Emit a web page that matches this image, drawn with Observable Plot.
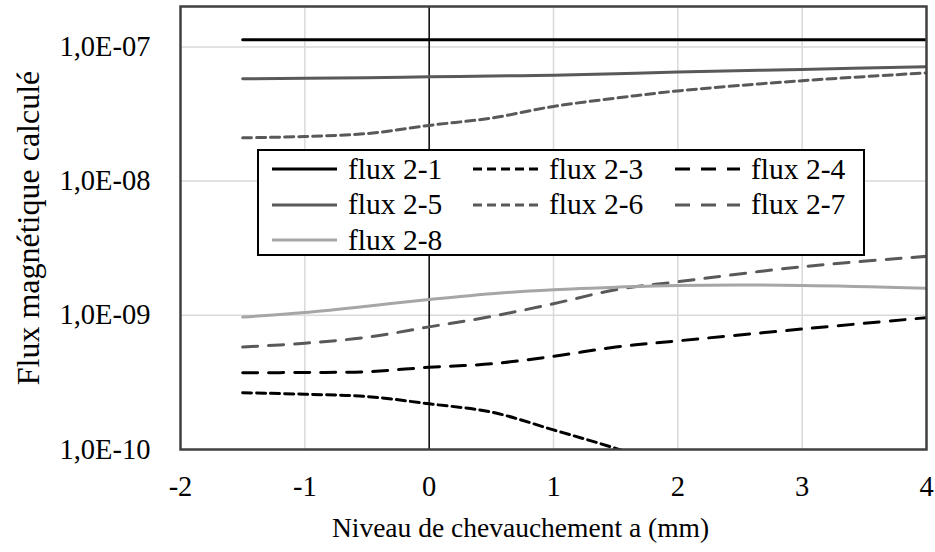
<!DOCTYPE html>
<html>
<head>
<meta charset="utf-8">
<script src="https://cdn.jsdelivr.net/npm/d3@7"></script>
<script src="https://cdn.jsdelivr.net/npm/@observablehq/plot@0.6"></script>
<style>
  html, body { margin: 0; padding: 0; background: #fff; }
  #wrap { position: relative; width: 935px; height: 552px; font-family: "Times New Roman", "Liberation Serif", serif; }
  #legend { position: absolute; left: 257px; top: 149px; width: 604px; height: 103px; background: #fff; border: 2px solid #000; }
  .item { position: absolute; height: 34px; display: flex; align-items: center; font-family: "Times New Roman", "Liberation Serif", serif; font-size: 29.5px; color: #000; white-space: nowrap; }
  .item svg { margin-right: 11px; }
</style>
</head>
<body>
<div id="wrap"></div>
<script>
// ---- data ----
const xValues = [-1.5, -1, -0.5, 0, 0.5, 1, 1.5, 2, 3, 4];
const flux21 = [1.13e-7, 1.13e-7, 1.13e-7, 1.13e-7, 1.13e-7, 1.13e-7, 1.13e-7, 1.13e-7, 1.13e-7, 1.13e-7];
const flux23 = [2.65e-10, 2.58e-10, 2.48e-10, 2.19e-10, 1.9e-10, 1.4e-10, 1.02e-10, 7.2e-11, null, null];
const flux24 = [3.73e-10, 3.75e-10, 3.8e-10, 4.1e-10, 4.35e-10, 4.95e-10, 5.8e-10, 6.45e-10, 7.9e-10, 9.6e-10];
const flux25 = [5.78e-8, 5.83e-8, 5.9e-8, 5.98e-8, 6.07e-8, 6.15e-8, 6.3e-8, 6.5e-8, 6.8e-8, 7.1e-8];
const flux26 = [2.1e-8, 2.15e-8, 2.26e-8, 2.6e-8, 2.95e-8, 3.6e-8, 4.15e-8, 4.7e-8, 5.6e-8, 6.4e-8];
const flux27 = [5.8e-10, 6.2e-10, 6.86e-10, 8.2e-10, 9.8e-10, 1.22e-9, 1.55e-9, 1.78e-9, 2.3e-9, 2.75e-9];
const flux28 = [9.7e-10, 1.05e-9, 1.17e-9, 1.31e-9, 1.45e-9, 1.55e-9, 1.62e-9, 1.67e-9, 1.67e-9, 1.59e-9];

const seriesNames = ["flux 2-1", "flux 2-3", "flux 2-4", "flux 2-5", "flux 2-6", "flux 2-7", "flux 2-8"];
const seriesValues = [flux21, flux23, flux24, flux25, flux26, flux27, flux28];

const xTicks = [-2, -1, 0, 1, 2, 3, 4];
const yTicks = [1e-10, 1e-9, 1e-8, 1e-7];
const yTickLabels = ["1,0E-10", "1,0E-09", "1,0E-08", "1,0E-07"];

const xTitle = "Niveau de chevauchement a (mm)";
const yTitle = "Flux magnétique calculé";

// ---- styles ----
const serif = "'Times New Roman', 'Liberation Serif', serif";
const styles = {
  "flux 2-1": {stroke: "#000000", dash: null},
  "flux 2-3": {stroke: "#000000", dash: "9,5"},
  "flux 2-4": {stroke: "#000000", dash: "15,11"},
  "flux 2-5": {stroke: "#595959", dash: null},
  "flux 2-6": {stroke: "#595959", dash: "9,5"},
  "flux 2-7": {stroke: "#595959", dash: "15,11"},
  "flux 2-8": {stroke: "#a6a6a6", dash: null}
};

const rows = [];
seriesNames.forEach((name, i) => {
  seriesValues[i].forEach((v, j) => {
    if (v != null) rows.push({series: name, x: xValues[j], y: v});
  });
});

const lineMarks = seriesNames.map(name => Plot.line(rows.filter(d => d.series === name), {
  x: "x", y: "y", stroke: styles[name].stroke, strokeWidth: 3,
  strokeDasharray: styles[name].dash, curve: "catmull-rom", clip: true
}));

const chart = Plot.plot({
  width: 935,
  height: 552,
  marginLeft: 180,
  marginRight: 9,
  marginTop: 6,
  marginBottom: 103,
  style: {fontFamily: serif, fontSize: "28.5px", color: "#000", background: "#fff"},
  x: {domain: [-2, 4]},
  y: {type: "log", domain: [1e-10, 2e-7]},
  marks: [
    Plot.gridX(xTicks.filter(t => t !== 0 && t !== -2 && t !== 4), {stroke: "#d9d9d9", strokeOpacity: 1, strokeWidth: 1.5}),
    Plot.gridY(yTicks.slice(1), {stroke: "#d9d9d9", strokeOpacity: 1, strokeWidth: 1.5}),
    Plot.ruleX([0], {stroke: "#000", strokeWidth: 1.5}),
    Plot.axisX(xTicks, {tickSize: 0, tickPadding: 26, tickFormat: d => String(d), fontSize: 28.5, label: null}),
    Plot.axisY(yTicks, {tickSize: 0, tickPadding: 30, tickFormat: d => yTickLabels[yTicks.indexOf(d)], fontSize: 28.5, label: null}),
    Plot.text([xTitle], {frameAnchor: "bottom", dx: -33, dy: 79, lineAnchor: "middle", textAnchor: "middle", fontSize: 27.5, fill: "#000"}),
    Plot.text([yTitle], {frameAnchor: "left", dx: -152, rotate: -90, lineAnchor: "middle", textAnchor: "middle", fontSize: 32, fill: "#000"}),
    ...lineMarks,
    Plot.frame({stroke: "#404040", strokeWidth: 2.5})
  ]
});

const wrap = document.getElementById("wrap");
wrap.appendChild(chart);

// ---- legend ----
const legend = document.createElement("div");
legend.id = "legend";
const colLeft = [13, 214, 416];
seriesNames.forEach((name, i) => {
  const r = Math.floor(i / 3), c = i % 3;
  const item = document.createElement("div");
  item.className = "item";
  item.style.left = colLeft[c] + "px";
  item.style.top = (1 + r * 35.5) + "px";
  const s = styles[name];
  item.innerHTML = `<svg width="65" height="10"><line x1="0" y1="5" x2="65" y2="5" stroke="${s.stroke}" stroke-width="3" ${s.dash ? `stroke-dasharray="${s.dash}"` : ""}/></svg><span>${name}</span>`;
  legend.appendChild(item);
});
wrap.appendChild(legend);
</script>
</body>
</html>
